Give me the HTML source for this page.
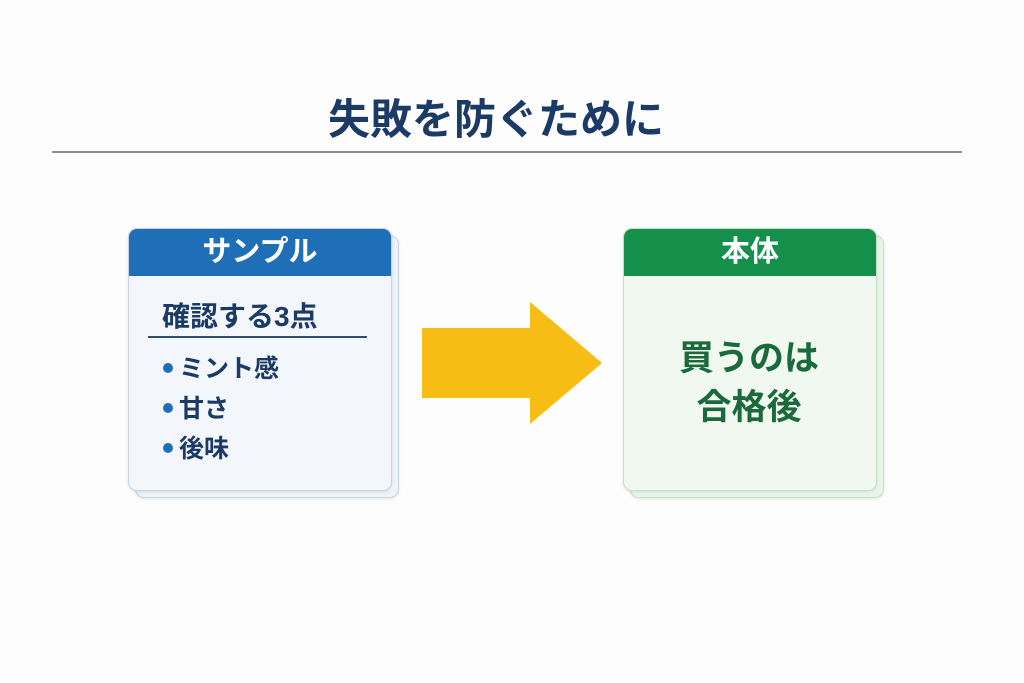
<!DOCTYPE html>
<html><head><meta charset="utf-8"><style>
body{margin:0;width:1024px;height:683px;background:#fdfdfd;position:relative;overflow:hidden;font-family:"Liberation Sans","Noto Sans CJK JP",sans-serif;font-weight:bold}
.a{position:absolute}
.d{display:inline-block;width:10px;height:10px;border-radius:50%;background:#1f6fb8;vertical-align:4px;margin-right:6px}
</style></head><body>
<div class="a" style="left:0;width:992px;top:92px;text-align:center;font-size:42px;color:#1b3a66;line-height:56px">失敗を防ぐために</div>
<div class="a" style="left:52px;width:910px;top:151px;height:2px;background:#8a8f96"></div>

<div class="a" style="left:135px;top:235px;width:262px;height:261px;border-radius:9px;background:#eef3f9;border:1px solid #c8d6e6;box-shadow:0 1px 3px rgba(0,0,0,.1)"></div>
<div class="a" style="left:128px;top:228px;width:262px;height:261px;border-radius:9px;background:#f3f7fc;border:1px solid #c3d3e5;overflow:hidden;box-shadow:0 1px 3px rgba(0,0,0,.1)">
  <div style="height:47px;background:#1f6fb8;color:#fff;font-size:29px;text-align:center;line-height:47px">サンプル</div>
</div>
<div class="a" style="left:162px;top:298px;font-size:28px;color:#1b3a66;line-height:38px">確認する3点</div>
<div class="a" style="left:148px;top:336px;width:219px;height:2px;background:#2b4a74"></div>
<div class="a" style="left:163px;top:349px;font-size:25px;color:#1b3a66;line-height:40px">
<div><span class="d"></span>ミント感</div>
<div><span class="d"></span>甘さ</div>
<div><span class="d"></span>後味</div>
</div>

<svg class="a" style="left:0;top:0" width="1024" height="683"><polygon points="422,328 530,328 530,302 602,363 530,424 530,398 422,398" fill="#f8bd14"/></svg>

<div class="a" style="left:630px;top:235px;width:252px;height:261px;border-radius:9px;background:#eaf5ea;border:1px solid #c6dfc8;box-shadow:0 1px 3px rgba(0,0,0,.1)"></div>
<div class="a" style="left:623px;top:228px;width:252px;height:261px;border-radius:9px;background:#f0f8f0;border:1px solid #c6dfc8;overflow:hidden;box-shadow:0 1px 3px rgba(0,0,0,.1)">
  <div style="height:47px;background:#14904a;color:#fff;font-size:29px;text-align:center;line-height:47px">本体</div>
</div>
<div class="a" style="left:623px;width:252px;top:334px;text-align:center;font-size:35px;color:#1a6a3c;line-height:49px">買うのは<br>合格後</div>
</body></html>
